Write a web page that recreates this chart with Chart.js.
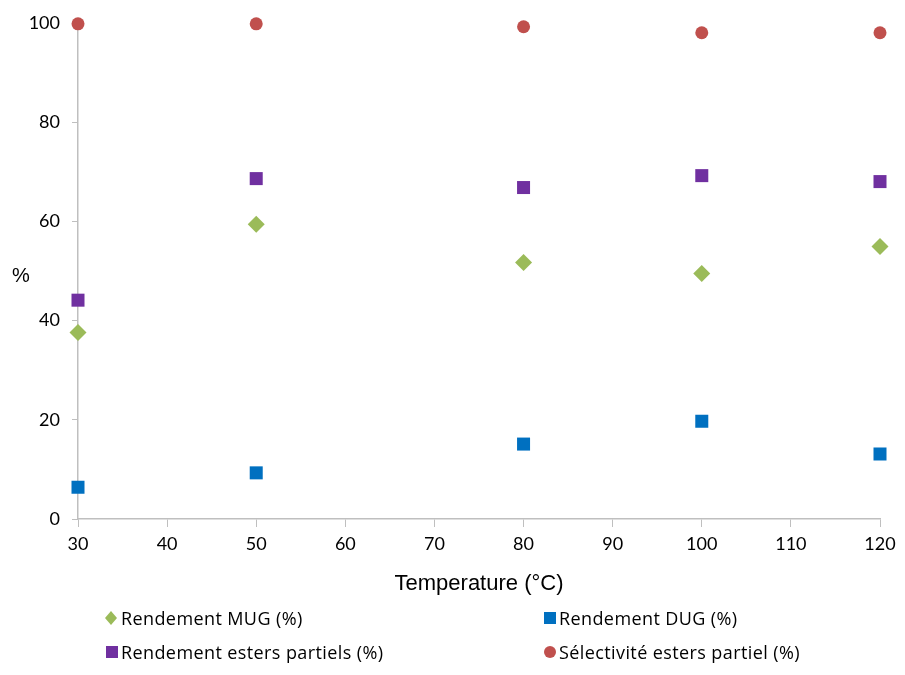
<!DOCTYPE html>
<html>
<head>
<meta charset="utf-8">
<script src="https://cdn.jsdelivr.net/npm/chart.js@4/dist/chart.umd.min.js"></script>
<style>
  body { margin: 0; background: #fff; }
  #wrap { position: relative; width: 905px; height: 675px; }
  #yTitle { position: absolute; left: 12px; top: 264px; font: 20px "Liberation Sans", Arial, sans-serif; color: #000; }
  .leg { position: absolute; font: 18px "Open Sans", Lato, sans-serif; letter-spacing: 0.4px; color: #000; display: flex; align-items: center; white-space: nowrap; }
  .leg canvas { margin-right: 2px; }
</style>
</head>
<body>
<div id="wrap">
  <canvas id="chart" width="905" height="675"></canvas>
  <span id="yTitle">%</span>
  <div id="legend"></div>
</div>
<script>
// ==========================================
// Données
// ==========================================

const temperatures = [30, 50, 80, 100, 120];
const rendementMUG = [37.6, 59.4, 51.7, 49.5, 54.9];
const rendementDUG = [6.4, 9.3, 15.1, 19.7, 13.1];
const rendementEsters = [44.1, 68.6, 66.8, 69.2, 68.0];
const selectivite = [99.8, 99.8, 99.2, 98.0, 98.0];

const seriesNames = [
    "Rendement MUG (%)",
    "Rendement DUG (%)",
    "Rendement esters partiels (%)",
    "Sélectivité esters partiel (%)"
];

const xTicks = [30, 40, 50, 60, 70, 80, 90, 100, 110, 120];
const yTicks = [0, 20, 40, 60, 80, 100];

function pts(vals){
    return temperatures.map((t, i) => ({ x: t, y: vals[i] }));
}

const series = [
    { name: seriesNames[0], data: rendementMUG, color: "#9BBB59", style: "rectRot", radius: 8.5 },
    { name: seriesNames[1], data: rendementDUG, color: "#0070C0", style: "rect", radius: 9.2 },
    { name: seriesNames[2], data: rendementEsters, color: "#7030A0", style: "rect", radius: 9.2 },
    { name: seriesNames[3], data: selectivite, color: "#C0504D", style: "circle", radius: 6.5 }
];

// ==========================================
// Graphique
// ==========================================

const ctx = document.getElementById("chart").getContext("2d");

new Chart(ctx, {
    type: "scatter",
    data: {
        datasets: series.map(s => ({
            label: s.name,
            data: pts(s.data),
            backgroundColor: s.color,
            borderColor: s.color,
            borderWidth: 0,
            pointStyle: s.style,
            pointRadius: s.radius,
            pointHoverRadius: s.radius,
            clip: false
        }))
    },
    options: {
        responsive: false,
        animation: false,
        layout: { padding: { top: 22, right: 25, bottom: 66, left: 0 } },
        plugins: {
            legend: { display: false },
            tooltip: { enabled: false }
        },
        scales: {
            x: {
                type: "linear",
                min: 30,
                max: 120,
                afterBuildTicks: sc => { sc.ticks = xTicks.map(v => ({ value: v })); },
                afterFit: sc => { sc.height = 90; },
                grid: { drawOnChartArea: false, color: "#BFBFBF", tickLength: 8, tickColor: "#BFBFBF" },
                border: { color: "#BFBFBF", width: 1.5 },
                ticks: { color: "#000", font: { family: "Lato, 'Open Sans', sans-serif", size: 18 }, padding: 6, maxRotation: 0 },
                title: {
                    display: true,
                    text: "Temperature (°C)",
                    color: "#000",
                    font: { family: "'Liberation Sans', Arial, sans-serif", size: 22 },
                    padding: { top: 0, bottom: 12 }
                }
            },
            y: {
                type: "linear",
                min: 0,
                max: 100,
                afterBuildTicks: sc => { sc.ticks = yTicks.map(v => ({ value: v })); },
                afterFit: sc => { sc.width = 78; },
                grid: { drawOnChartArea: false, color: "#BFBFBF", tickLength: 6, tickColor: "#BFBFBF" },
                border: { color: "#BFBFBF", width: 1.5 },
                ticks: { color: "#000", font: { family: "Lato, 'Open Sans', sans-serif", size: 18 }, padding: 12 }
            }
        }
    }
});

// ==========================================
// Légende
// ==========================================

const legendPos = [
    { left: 103, top: 606 },
    { left: 541, top: 606 },
    { left: 103, top: 640 },
    { left: 541, top: 640 }
];

const legendBox = document.getElementById("legend");
series.forEach((s, i) => {
    const item = document.createElement("div");
    item.className = "leg";
    item.style.left = legendPos[i].left + "px";
    item.style.top = legendPos[i].top + "px";
    const c = document.createElement("canvas");
    c.width = 16; c.height = 20;
    const g = c.getContext("2d");
    g.fillStyle = s.color;
    if (s.style === "rectRot") {
        g.beginPath(); g.moveTo(8, 3); g.lineTo(14, 10); g.lineTo(8, 17); g.lineTo(2, 10); g.closePath(); g.fill();
    } else if (s.style === "rect") {
        g.fillRect(3, 4, 12, 12);
    } else {
        g.beginPath(); g.arc(9, 10, 6, 0, Math.PI * 2); g.fill();
    }
    item.appendChild(c);
    const t = document.createElement("span");
    t.textContent = s.name;
    item.appendChild(t);
    legendBox.appendChild(item);
});
</script>
</body>
</html>
